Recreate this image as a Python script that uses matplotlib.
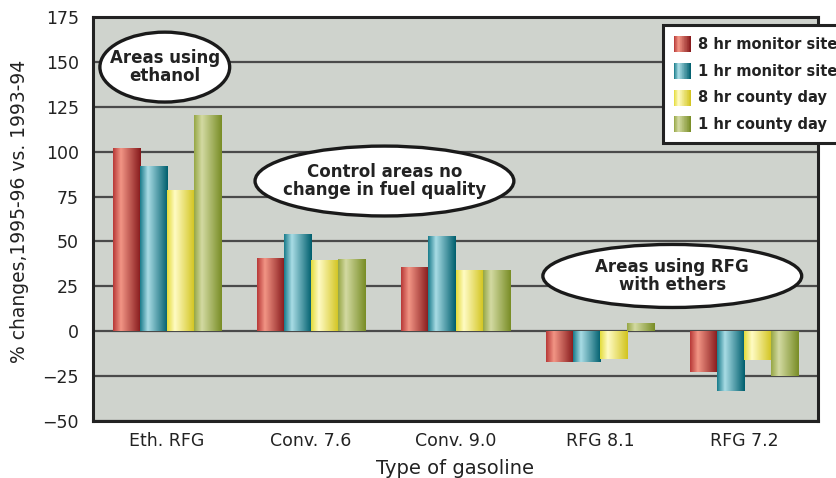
import matplotlib

matplotlib.use("Agg")

import numpy as np
import matplotlib.pyplot as plt
from matplotlib.colors import LinearSegmentedColormap
from matplotlib.legend_handler import HandlerBase
from matplotlib.patches import Rectangle, Ellipse

IMAGE_DPI = 100.0

categories = ["Eth. RFG", "Conv. 7.6", "Conv. 9.0", "RFG 8.1", "RFG 7.2"]
series = ["8 hr monitor site", "1 hr monitor site", "8 hr county day", "1 hr county day"]
monitor_8hr = [102, 41, 36, -17, -22.5]
monitor_1hr = [92, 54, 53, -17, -33.5]
county_8hr = [78.5, 39.5, 34, -15.5, -16]
county_1hr = [120.5, 40, 34, 4.5, -25]
y_ticks = [-50, -25, 0, 25, 50, 75, 100, 125, 150, 175]

# (left edge colour, highlight, right edge shadow) for the cylinder shading
shades = [
    ("#b83a38", "#f29585", "#86191b"),
    ("#1a7d8c", "#a9dce5", "#005f6e"),
    ("#e4dc3c", "#fffbc4", "#d2c41e"),
    ("#97a746", "#d3daa2", "#798d26"),
]

callouts = [
    ("Areas using\nethanol", (0.099, 0.876), (0.179, 0.173)),
    ("Control areas no\nchange in fuel quality", (0.402, 0.594), (0.357, 0.173)),
    ("Areas using RFG\nwith ethers", (0.799, 0.359), (0.357, 0.156)),
]


def make_cmap(colors):
    return LinearSegmentedColormap.from_list(
        "cyl", [(0.0, colors[0]), (0.28, colors[1]), (1.0, colors[2])]
    )


class GradientHandler(HandlerBase):
    def __init__(self, cmap, steps=24):
        super().__init__()
        self.cmap = cmap
        self.steps = steps

    def create_artists(self, legend, orig_handle, xdescent, ydescent,
                       width, height, fontsize, trans):
        step = width / self.steps
        artists = []
        for i in range(self.steps):
            r = Rectangle(
                (-xdescent + i * step, -ydescent), step * 1.05, height,
                facecolor=self.cmap((i + 0.5) / self.steps), edgecolor="none",
                transform=trans,
            )
            artists.append(r)
        return artists


fig = plt.figure(facecolor="white")
fig.set_size_inches(836 / IMAGE_DPI, 478 / IMAGE_DPI)
ax = fig.add_axes([93 / 836, 1 - 421 / 478, 725 / 836, 404 / 478])
ax.set_facecolor("#cfd3cd")

x = np.arange(len(categories))
width = 0.187
values = [monitor_8hr, monitor_1hr, county_8hr, county_1hr]
grad = np.linspace(0, 1, 64).reshape(1, -1)

containers = []
cmaps = []
for i, (vals, colors) in enumerate(zip(values, shades)):
    cmap = make_cmap(colors)
    cmaps.append(cmap)
    bars = ax.bar(x + (i - 1.5) * width, vals, width, color=colors[1],
                  edgecolor="none", zorder=3, label=series[i])
    containers.append(bars)
    for patch in bars.patches:
        x0, y0 = patch.get_x(), patch.get_y()
        x1, y1 = x0 + patch.get_width(), y0 + patch.get_height()
        im = ax.imshow(grad, extent=[x0, x1, min(y0, y1), max(y0, y1)],
                       aspect="auto", cmap=cmap, interpolation="bilinear",
                       zorder=4)
        im.set_clip_path(patch)

ax.set_xlim(-0.51, 4.51)
ax.set_ylim(-50, 175)
ax.set_yticks(y_ticks)
ax.set_xticks(x)
ax.set_xticklabels(categories, fontsize=12.5, color="#222222")
ax.tick_params(axis="y", length=0, pad=10, labelsize=12.5, labelcolor="#222222")
ax.tick_params(axis="x", length=0, pad=8)
ax.grid(axis="y", color="#4a4a4a", linewidth=1.6, zorder=1)
ax.set_axisbelow(True)
for spine in ax.spines.values():
    spine.set_color("#222222")
    spine.set_linewidth(2.2)

for text, center, size in callouts:
    ax.add_patch(Ellipse(center, size[0], size[1], transform=ax.transAxes,
                         facecolor="white", edgecolor="#1a1a1a",
                         linewidth=2.4, zorder=6))
    ax.text(center[0], center[1], text, transform=ax.transAxes, ha="center",
            va="center", fontsize=12, fontweight="bold", color="#222222",
            linespacing=1.0, zorder=7)

fig.text(20 / 836, 1 - 211 / 478, "% changes,1995-96 vs. 1993-94",
         rotation=90, ha="center", va="center", fontsize=13.5, color="#222222")
fig.text(455 / 836, 1 - 469 / 478, "Type of gasoline", ha="center",
         va="center", fontsize=14, color="#222222")

handler_map = {c: GradientHandler(cm) for c, cm in zip(containers, cmaps)}
leg = fig.legend(
    containers, series, handler_map=handler_map, loc="upper left",
    bbox_to_anchor=(663 / 836, 1 - 25 / 478), prop={"weight": "bold", "size": 10.5},
    frameon=True, fancybox=False, framealpha=1, edgecolor="#222222",
    handlelength=1.15, handleheight=1.3, handletextpad=0.5,
    labelspacing=0.75, borderpad=0.75, borderaxespad=0,
)
leg.get_frame().set_linewidth(2.2)
for t in leg.get_texts():
    t.set_color("#222222")

fig.savefig("out.png", dpi=IMAGE_DPI)
